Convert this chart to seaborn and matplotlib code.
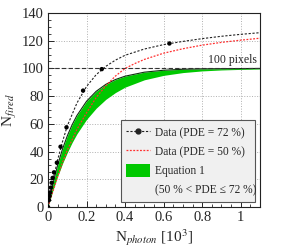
import seaborn as sns
import matplotlib.pyplot as plt
import numpy as np
import pandas as pd
from matplotlib.lines import Line2D
from matplotlib.patches import Patch
from matplotlib.ticker import MultipleLocator, FuncFormatter

# measured points, PDE = 72 %
pts_x = [0.0, 0.005, 0.008, 0.011, 0.015, 0.019, 0.024, 0.031, 0.046, 0.065, 0.096, 0.182, 0.279, 0.630]
pts_y = [0.0, 5.0, 8.0, 10.5, 14.0, 17.5, 21.0, 25.0, 32.0, 43.5, 57.5, 84.0, 99.5, 118.0]

# dotted fit through the PDE = 72 % data
fit72_x = [0.0, 0.025, 0.05, 0.075, 0.1, 0.15, 0.2, 0.25, 0.3, 0.35, 0.4, 0.5, 0.6, 0.7, 0.8, 0.9, 1.0, 1.1]
fit72_y = [0.0, 19.0, 34.0, 47.0, 58.5, 75.0, 87.0, 95.5, 101.5, 106.0, 109.5, 114.0, 117.2, 119.5, 121.5, 123.2, 124.6, 125.8]

# dotted red curve, PDE = 50 %
fit50_x = [0.0, 0.025, 0.05, 0.075, 0.1, 0.15, 0.2, 0.25, 0.3, 0.35, 0.4, 0.45, 0.5, 0.6, 0.7, 0.8, 0.9, 1.0, 1.1]
fit50_y = [0.0, 11.0, 22.0, 32.0, 41.0, 56.0, 68.0, 79.0, 87.5, 94.5, 100.0, 103.5, 106.5, 111.0, 114.2, 116.8, 118.8, 120.4, 121.8]

# band from Equation 1
band_x = [0.0, 0.025, 0.05, 0.075, 0.1, 0.125, 0.15, 0.2, 0.25, 0.3, 0.35, 0.4, 0.5, 0.6, 0.7, 0.8, 0.9, 1.0, 1.1]
band_hi = [0.0, 16.5, 30.2, 41.7, 51.3, 59.3, 66.0, 76.3, 83.5, 88.5, 92.0, 94.4, 97.3, 98.7, 99.4, 99.7, 99.8, 99.9, 100.0]
band_lo = [0.0, 11.8, 22.1, 31.3, 39.3, 46.5, 52.8, 63.2, 71.3, 77.7, 82.6, 86.5, 91.8, 95.0, 97.0, 98.2, 98.9, 99.3, 99.6]

n_pixels = 100

sns.set_style("ticks")
plt.rcParams['font.family'] = ['Liberation Serif', 'DejaVu Serif']
plt.rcParams['mathtext.fontset'] = 'stix'

fig, ax = plt.subplots(figsize=(2.83, 2.47), dpi=100)
fig.subplots_adjust(left=48/283, right=260/283, bottom=1-207/247, top=1-13/247)

green = '#00c800'
ax.fill_between(band_x, band_lo, band_hi, color=green, lw=0, zorder=2)
sns.lineplot(x=band_x, y=band_hi, ax=ax, color='#103010', lw=0.8, zorder=3)

ax.axhline(n_pixels, color='#333333', ls=(0, (4, 2)), lw=0.8, zorder=3)
ax.text(1.085, n_pixels + 1.5, '100 pixels', fontsize=8.5, va='bottom', ha='right')

sns.lineplot(x=fit50_x, y=fit50_y, ax=ax, color='#ff3030', ls=(0, (1.5, 1.2)), lw=0.9, zorder=4)
sns.lineplot(x=fit72_x, y=fit72_y, ax=ax, color='#222222', ls=(0, (2, 1.5)), lw=0.8, zorder=4)
sns.scatterplot(x=pts_x, y=pts_y, ax=ax, color='black', s=10, edgecolor='none', zorder=5)

ax.set_xlim(0, 1.1)
ax.set_ylim(0, 140)
ax.xaxis.set_major_locator(MultipleLocator(0.2))
ax.xaxis.set_minor_locator(MultipleLocator(0.05))
ax.yaxis.set_major_locator(MultipleLocator(20))
ax.yaxis.set_minor_locator(MultipleLocator(5))
ax.xaxis.set_major_formatter(FuncFormatter(lambda v, p: '%g' % round(v, 2)))
ax.tick_params(which='major', direction='in', length=4, width=0.7, labelsize=10.5, pad=3)
ax.tick_params(which='minor', direction='in', length=2, width=0.6)
ax.grid(True, which='major', color='#b0b0b0', ls=':', lw=0.7)
for s in ax.spines.values():
    s.set_linewidth(0.8)
    s.set_color('#222222')

ax.set_xlabel(r'N$_{photon}$ [10$^3$]', fontsize=11, labelpad=2)
ax.set_ylabel(r'N$_{fired}$', fontsize=11, labelpad=2)
ax.xaxis.set_label_coords(0.5, -0.105)

handles = [
    Line2D([], [], color='#222222', ls=(0, (2, 1.5)), lw=0.8, marker='o', ms=3.5),
    Line2D([], [], color='#ff3030', ls=(0, (1.5, 1.2)), lw=0.9),
    Patch(facecolor=green, edgecolor='none'),
    Line2D([], [], color='none'),
]
labels = ['Data (PDE = 72 %)', 'Data (PDE = 50 %)', 'Equation 1', '(50 % < PDE ≤ 72 %)']
leg = ax.legend(handles, labels, loc='lower left', bbox_to_anchor=(0.343, 0.027, 0.633, 0.39),
                mode='expand', fontsize=8.3, frameon=True, fancybox=False, framealpha=1,
                handlelength=2.0, handleheight=1.3, labelspacing=0.5, borderpad=0.5,
                handletextpad=0.5, borderaxespad=0)
leg.get_frame().set_facecolor('#f0f0f0')
leg.get_frame().set_edgecolor('#555555')
leg.get_frame().set_linewidth(0.8)
leg.set_zorder(6)

fig.savefig('out.png', dpi=100)
